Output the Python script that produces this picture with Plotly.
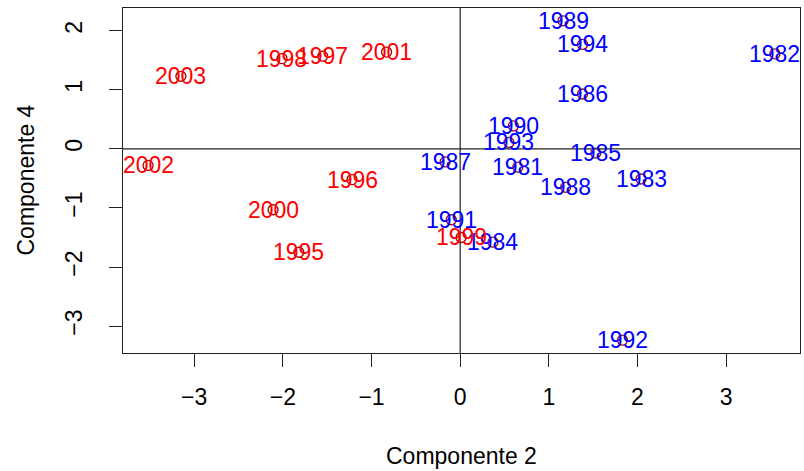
import plotly.graph_objects as go

# Scores of each year on principal components 2 and 4
years = [1981, 1982, 1983, 1984, 1985, 1986, 1987, 1988, 1989, 1990, 1991, 1992,
         1993, 1994, 1995, 1996, 1997, 1998, 1999, 2000, 2001, 2002, 2003]
comp2 = [0.65, 3.55, 2.04, 0.37, 1.53, 1.38, -0.17, 1.19, 1.16, 0.60, -0.10, 1.83,
         0.55, 1.38, -1.82, -1.22, -1.55, -2.01, 0.01, -2.11, -0.83, -3.52, -3.15]
comp4 = [-0.31, 1.61, -0.51, -1.58, -0.07, 0.93, -0.22, -0.65, 2.17, 0.39, -1.20, -3.24,
         0.11, 1.77, -1.75, -0.52, 1.57, 1.53, -1.50, -1.03, 1.64, -0.28, 1.23]
split_year = 1995  # years from here on are drawn in red

x_ticks = [-3, -2, -1, 0, 1, 2, 3]
y_ticks = [-3, -2, -1, 0, 1, 2]

FONT = "Liberation Sans, Arial, Helvetica, sans-serif"
FS = 23


def padded(vals, frac=0.04):
    lo, hi = min(vals), max(vals)
    pad = (hi - lo) * frac
    return [lo - pad, hi + pad]


colors = ["red" if yr >= split_year else "blue" for yr in years]

fig = go.Figure()

# year labels centred on each point
for xv, yv, yr, col in zip(comp2, comp4, years, colors):
    fig.add_annotation(x=xv, y=yv, xref="x", yref="y", text=str(yr),
                       showarrow=False, xanchor="center", yanchor="middle",
                       font=dict(family=FONT, size=FS, color=col))

# open circle markers
fig.add_trace(go.Scatter(
    x=comp2, y=comp4, mode="markers",
    marker=dict(symbol="circle-open", size=10, color="#a80000", line=dict(width=1.3)),
    showlegend=False,
))

axis_common = dict(
    showgrid=False,
    showline=True, linecolor="#222222", linewidth=1.3, mirror=True,
    ticks="outside", ticklen=13, tickwidth=1, tickcolor="#222222",
    tickfont=dict(family=FONT, size=FS, color="black"),
    zeroline=False,
)

fig.update_xaxes(range=padded(comp2), tickvals=x_ticks, ticklabelstandoff=10, **axis_common)
fig.update_yaxes(range=padded(comp4), tickvals=y_ticks, tickangle=-90,
                 ticklabelstandoff=18, **axis_common)

# reference lines through the origin
fig.add_hline(y=0, line=dict(color="#222222", width=1.2))
fig.add_vline(x=0, line=dict(color="#222222", width=1.2))

fig.add_annotation(text="Componente 2", xref="paper", yref="paper", x=0.5, y=0,
                   yanchor="middle", yshift=-103, showarrow=False,
                   font=dict(family=FONT, size=FS, color="black"))
fig.add_annotation(text="Componente 4", xref="paper", yref="paper", x=0, y=0.5,
                   xanchor="center", xshift=-98, textangle=-90, showarrow=False,
                   font=dict(family=FONT, size=FS, color="black"))

fig.update_layout(
    width=804, height=471,
    margin=dict(l=123, r=4, t=8, b=118),
    paper_bgcolor="white", plot_bgcolor="white",
)

fig.write_html("out.html")
